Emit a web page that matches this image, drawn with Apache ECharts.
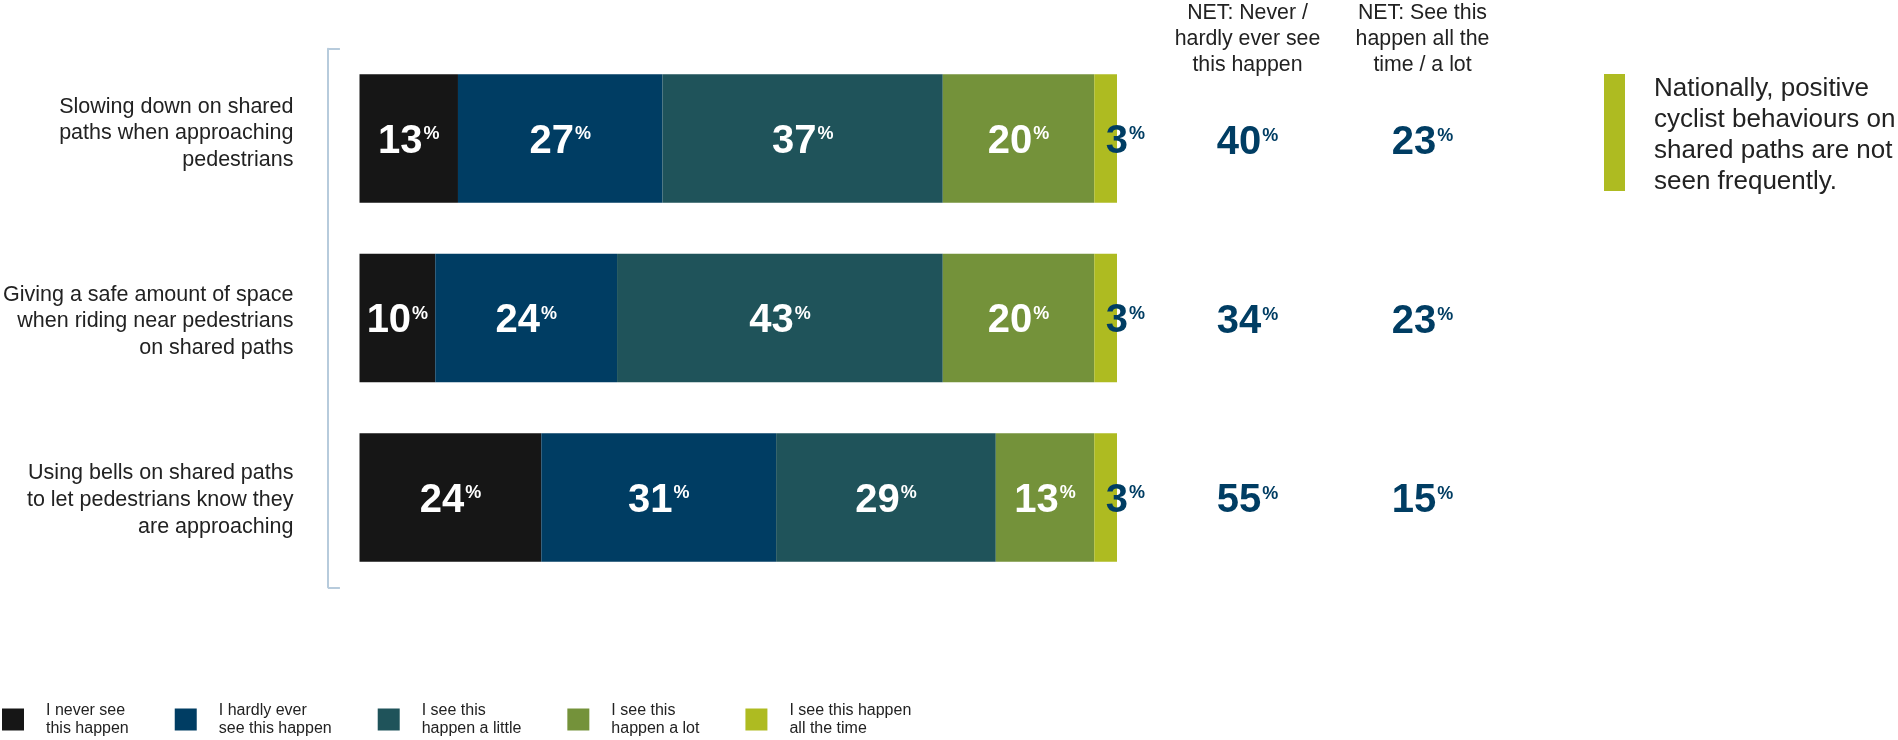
<!DOCTYPE html>
<html>
<head>
<meta charset="utf-8">
<title>Cyclist behaviours on shared paths</title>
<script src="https://cdn.jsdelivr.net/npm/echarts@6/dist/echarts.min.js"></script>
<style>
  html, body { margin: 0; padding: 0; background: #ffffff; }
  #chart { width: 1898px; height: 740px; }
</style>
</head>
<body>
<div id="chart"></div>
<script>
// Behaviours asked about (one bar each)
const behaviours = [
  'Slowing down on shared\npaths when approaching\npedestrians',
  'Giving a safe amount of space\nwhen riding near pedestrians\non shared paths',
  'Using bells on shared paths\nto let pedestrians know they\nare approaching'
];

// Response scale
const responseNames = [
  'I never see this happen',
  'I hardly ever see this happen',
  'I see this happen a little',
  'I see this happen a lot',
  'I see this happen all the time'
];
const legendLabels = [
  'I never see\nthis happen',
  'I hardly ever\nsee this happen',
  'I see this\nhappen a little',
  'I see this\nhappen a lot',
  'I see this happen\nall the time'
];

// Share of respondents (%) per response, by behaviour
const neverSee   = [13, 10, 24];
const hardlyEver = [27, 24, 31];
const aLittle    = [37, 43, 29];
const aLot       = [20, 20, 13];
const allTheTime = [3, 3, 3];

// Net scores
const netHeaders = [
  'NET: Never /\nhardly ever see\nthis happen',
  'NET: See this\nhappen all the\ntime / a lot'
];
const netNever = [40, 34, 55];
const netLot   = [23, 23, 15];

const noteText = 'Nationally, positive\ncyclist behaviours on\nshared paths are not\nseen frequently.';

// ---- styling ----
const FONT = '"Liberation Sans", Arial, Helvetica, sans-serif';
const TEXT = '#222222';
const NAVY = '#003d63';
const palette = ['#161616', '#003d63', '#1f535a', '#74923a', '#aebb21'];
const BRACKET = '#b7cbdc';

// Shared plot band (rows) for bars, bracket and net columns
const PLOT_TOP = 48.75;
const PLOT_HEIGHT = 538.5;

function pctRich(color) {
  return {
    n: { fontFamily: FONT, fontSize: 40, fontWeight: 'bold', color: color, lineHeight: 40 },
    p: { fontFamily: FONT, fontSize: 18, fontWeight: 'bold', color: color, lineHeight: 18,
         verticalAlign: 'top', padding: [3.5, 0, 0, 1] }
  };
}
const pctFormatter = v => '{n|' + v + '}{p|%}';

// Row label styles: small per-row vertical nudges
const rowNudge = [[0, 0, 10, 0], [7, 0, 0, 0], [5, 0, 0, 0]];
const rowRich = {};
rowNudge.forEach((pad, i) => {
  rowRich['r' + i] = {
    fontFamily: FONT, fontSize: 21.5, lineHeight: 26.7, color: TEXT,
    align: 'right', padding: pad
  };
});

const seriesValues = [neverSee, hardlyEver, aLittle, aLot, allTheTime];

const barSeries = seriesValues.map((vals, idx) => {
  const last = idx === seriesValues.length - 1;
  return {
    name: responseNames[idx],
    type: 'bar',
    stack: 'total',
    xAxisIndex: 0,
    yAxisIndex: 0,
    barWidth: 128.5,
    itemStyle: { color: palette[idx] },
    label: {
      show: true,
      position: 'inside',
      align: last ? 'left' : 'center',
      offset: [0, 3.3],
      formatter: p => pctFormatter(p.value),
      rich: pctRich(last ? NAVY : '#ffffff')
    },
    data: vals
  };
});

function netSeries(name, colIdx, vals) {
  return {
    name: name,
    type: 'scatter',
    xAxisIndex: 1,
    yAxisIndex: 1,
    symbolSize: 1,
    itemStyle: { color: 'rgba(0,0,0,0)', opacity: 1 },
    label: {
      show: true,
      position: 'inside',
      offset: [0, 3.3],
      formatter: p => pctFormatter(p.value[2]),
      rich: pctRich(NAVY)
    },
    data: behaviours.map((b, i) => [netHeaders[colIdx], b, vals[i]])
  };
}

const chart = echarts.init(document.getElementById('chart'), null, { renderer: 'canvas' });

chart.setOption({
  animation: false,
  textStyle: { fontFamily: FONT },
  grid: [
    { left: 359.5, width: 757.5, top: PLOT_TOP, height: PLOT_HEIGHT },
    { left: 1160, width: 350, top: PLOT_TOP, height: PLOT_HEIGHT },
    { left: 327.5, width: 1, top: PLOT_TOP, height: PLOT_HEIGHT }
  ],
  xAxis: [
    { gridIndex: 0, type: 'value', min: 0, max: 100, show: false },
    {
      gridIndex: 1, type: 'category', position: 'top', data: netHeaders,
      axisLine: { show: false }, axisTick: { show: false }, splitLine: { show: false },
      axisLabel: {
        interval: 0, margin: -27.5, fontFamily: FONT, fontSize: 21.3,
        lineHeight: 26, color: TEXT, align: 'center'
      }
    },
    { gridIndex: 2, type: 'value', show: false }
  ],
  yAxis: [
    { gridIndex: 0, type: 'category', inverse: true, data: behaviours, show: false },
    { gridIndex: 1, type: 'category', inverse: true, data: behaviours, show: false },
    {
      // bracket with row labels
      gridIndex: 2, type: 'category', inverse: true, data: behaviours,
      axisLine: { show: true, lineStyle: { color: BRACKET, width: 2 } },
      axisTick: {
        show: true, inside: true, length: 12,
        interval: i => i === 0,
        lineStyle: { color: BRACKET, width: 2 }
      },
      splitLine: { show: false },
      axisLabel: {
        interval: 0, margin: 34.5, fontFamily: FONT, fontSize: 21.5,
        lineHeight: 26.7, color: TEXT, align: 'right',
        formatter: (v, i) => v.split('\n').map(line => '{r' + i + '|' + line + '}').join('\n'),
        rich: rowRich
      }
    }
  ],
  legend: {
    left: 2,
    top: 701,
    padding: 0,
    itemWidth: 22,
    itemHeight: 22,
    itemGap: 46,
    icon: 'rect',
    selectedMode: false,
    data: responseNames,
    formatter: n => legendLabels[responseNames.indexOf(n)],
    textStyle: { fontFamily: FONT, fontSize: 16, lineHeight: 18.5, color: TEXT, padding: [0, 0, 0, 17] }
  },
  graphic: [
    { type: 'rect', left: 1604, top: 74, shape: { width: 21, height: 117 }, style: { fill: '#aebb21' } },
    {
      type: 'text', left: 1654, top: 73.5,
      style: { text: noteText, fontFamily: FONT, fontSize: 26, lineHeight: 31, fill: TEXT }
    }
  ],
  series: barSeries.concat([
    netSeries('NET: Never / hardly ever', 0, netNever),
    netSeries('NET: All the time / a lot', 1, netLot)
  ])
});
</script>
</body>
</html>
